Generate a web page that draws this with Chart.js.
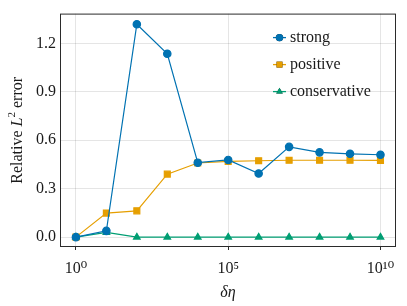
<!DOCTYPE html>
<html>
<head>
<meta charset="utf-8">
<script src="https://cdn.jsdelivr.net/npm/chart.js@4"></script>
<style>
  html, body { margin: 0; padding: 0; background: #fff; }
  #wrap { width: 407px; height: 306px; }
</style>
</head>
<body>
<div id="wrap"><canvas id="graf" width="407" height="306"></canvas></div>
<script>
"use strict";

// delta eta values (10^0 ... 10^10)
const deltaEta = [1e0, 1e1, 1e2, 1e3, 1e4, 1e5, 1e6, 1e7, 1e8, 1e9, 1e10];
const strong = [0.0, 0.039, 1.318, 1.135, 0.461, 0.478, 0.394, 0.559, 0.525, 0.516, 0.510];
const positive = [0.0, 0.149, 0.163, 0.39, 0.459, 0.469, 0.473, 0.476, 0.476, 0.476, 0.475];
const conservative = [0.0, 0.029, 0.0, 0.0, 0.0, 0.0, 0.0, 0.0, 0.0, 0.0, 0.0];
const xTicks = [1e0, 1e5, 1e10];
const yTicks = [0.0, 0.3, 0.6, 0.9, 1.2];

const FONT = "'Liberation Serif', 'DejaVu Serif', serif";
const sup = { "0": "⁰", "1": "¹", "5": "⁵" };

function punkter(ys) {
  return deltaEta.map((x, i) => ({ x: x, y: ys[i] }));
}

// frame around the plot, y title with italic L, legend inside the plot
const rammePlugin = {
  id: "ramme",
  afterDatasetsDraw(chart) {
    const ctx = chart.ctx, a = chart.chartArea;
    ctx.save();
    ctx.strokeStyle = "#2b2b2b";
    ctx.lineWidth = 1;
    ctx.strokeRect(a.left + 0.5, a.top + 0.5, a.right - a.left - 1, a.bottom - a.top - 1);

    // y title: "Relative L² error"
    const dele = [
      { t: "Relative ", f: "16px " + FONT, dy: 0 },
      { t: "L", f: "italic 16px " + FONT, dy: 0 },
      { t: "2", f: "11px " + FONT, dy: -6 },
      { t: " error", f: "16px " + FONT, dy: 0 }
    ];
    let total = 0;
    dele.forEach(d => { ctx.font = d.f; d.w = ctx.measureText(d.t).width; total += d.w; });
    ctx.translate(18, (a.top + a.bottom) / 2);
    ctx.rotate(-Math.PI / 2);
    ctx.fillStyle = "#1a1a1a";
    ctx.textBaseline = "middle";
    ctx.textAlign = "left";
    let px = -total / 2;
    dele.forEach(d => { ctx.font = d.f; ctx.fillText(d.t, px, d.dy); px += d.w; });
    ctx.setTransform(1, 0, 0, 1, 0, 0);

    // legend
    let y = a.top + 24;
    const x0 = a.left + 213;
    chart.data.datasets.forEach(ds => {
      ctx.strokeStyle = ds.borderColor;
      ctx.lineWidth = 1.3;
      ctx.beginPath();
      ctx.moveTo(x0, y);
      ctx.lineTo(x0 + 13, y);
      ctx.stroke();
      Chart.helpers.drawPoint(ctx, { pointStyle: ds.pointStyle, radius: ds.pointRadius, borderWidth: 0, rotation: 0 }, x0 + 6.5, y);
      ctx.fillStyle = ds.borderColor;
      ctx.fill();
      ctx.fillStyle = "#1a1a1a";
      ctx.font = "16px " + FONT;
      ctx.textBaseline = "middle";
      ctx.textAlign = "left";
      ctx.fillText(ds.label, x0 + 17, y);
      y += 27;
    });
    ctx.restore();
  }
};

new Chart(document.getElementById("graf").getContext("2d"), {
  type: "line",
  data: {
    datasets: [
      { label: "strong",       data: punkter(strong),       borderColor: "#0072B2", backgroundColor: "#0072B2", pointStyle: "circle",   pointRadius: 3.7, borderWidth: 1.2 },
      { label: "positive",     data: punkter(positive),     borderColor: "#E69F00", backgroundColor: "#E69F00", pointStyle: "rect",     pointRadius: 4.2, borderWidth: 1.2 },
      { label: "conservative", data: punkter(conservative), borderColor: "#009E73", backgroundColor: "#009E73", pointStyle: "triangle", pointRadius: 3.8, borderWidth: 1.2 }
    ]
  },
  options: {
    responsive: false,
    animation: false,
    layout: { padding: { top: 11, right: 11, left: 0, bottom: 0 } },
    plugins: { legend: { display: false }, tooltip: { enabled: false } },
    elements: { point: { borderWidth: 0 }, line: { tension: 0 } },
    scales: {
      x: {
        type: "logarithmic",
        min: Math.pow(10, -0.515),
        max: Math.pow(10, 10.51),
        afterBuildTicks: s => { s.ticks = xTicks.map(v => ({ value: v })); },
        afterFit: s => { s.height = 59; },
        ticks: {
          autoSkip: false, maxRotation: 0, padding: 9,
          color: "#1a1a1a", font: { family: FONT, size: 16 },
          callback: v => "10" + String(Math.round(Math.log10(v))).split("").map(c => sup[c]).join("")
        },
        grid: { color: "rgba(0,0,0,0.1)", tickColor: "#2b2b2b", tickLength: 3, drawOnChartArea: true },
        border: { display: false },
        title: { display: true, text: "δη", color: "#1a1a1a", font: { family: FONT, size: 16, style: "italic" }, padding: { top: 0 } }
      },
      y: {
        min: -0.061,
        max: 1.384,
        afterBuildTicks: s => { s.ticks = yTicks.map(v => ({ value: v })); },
        afterFit: s => { s.width = 60; },
        ticks: {
          padding: 4, color: "#1a1a1a", font: { family: FONT, size: 16 },
          callback: v => v.toFixed(1)
        },
        grid: { color: "rgba(0,0,0,0.1)", drawTicks: false, tickLength: 0 },
        border: { display: false },
        title: { display: false }
      }
    }
  },
  plugins: [rammePlugin]
});
</script>
</body>
</html>
